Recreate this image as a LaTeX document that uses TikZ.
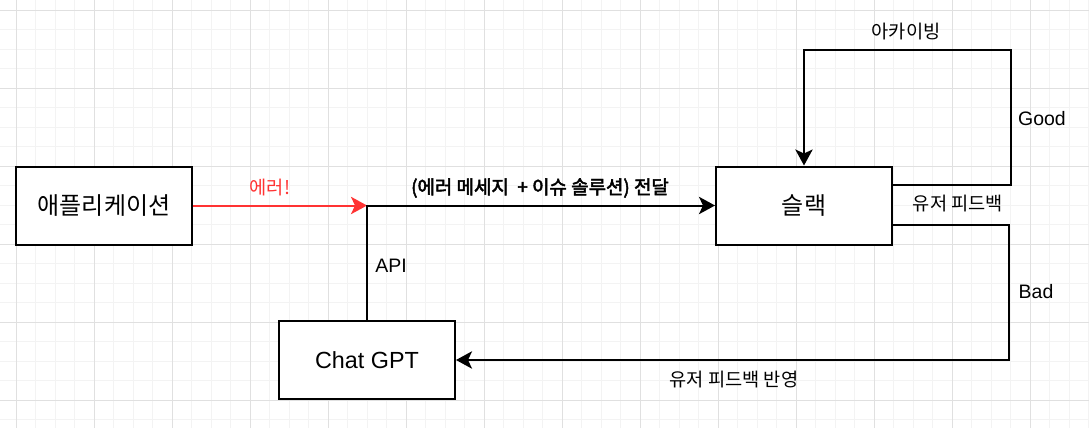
\documentclass[tikz,border=0pt]{standalone}
\usepackage{fontspec}
\setmainfont{Liberation Sans}
\newfontfamily\kr{Noto Sans CJK KR}
\newfontfamily\krb[FakeBold=2.5]{Noto Sans CJK KR}
\usetikzlibrary{arrows.meta}
\definecolor{gridminor}{HTML}{F3F3F3}
\definecolor{gridmajor}{HTML}{E0E0E0}
\definecolor{errred}{HTML}{FF3333}
\tikzset{
  box/.style={draw=black, line width=1.5pt, fill=white, minimum width=132pt, minimum height=58.5pt, inner sep=0pt},
  conn/.style={line width=1.5pt, draw=black, line join=miter},
  arr/.style={-{Stealth[length=12pt,width=13pt,inset=3pt]}},
  krbig/.style={font=\kr\fontsize{18pt}{20pt}\selectfont},
  latbig/.style={font=\fontsize{17.5pt}{20pt}\selectfont},
  krlbl/.style={inner sep=0pt, font=\kr\fontsize{14pt}{16pt}\selectfont},
  latlbl/.style={inner sep=0pt, font=\fontsize{14.6pt}{16pt}\selectfont},
}
\begin{document}
\begin{tikzpicture}[x=0.75pt,y=-0.75pt]
\useasboundingbox (0,0) rectangle (1089,428);
\fill[white] (0,0) rectangle (1089,428);
% grid
\foreach \k in {0,...,55} {\draw[gridminor, line width=0.75pt] ({16.3+19.5*\k},0) -- ({16.3+19.5*\k},428);}
\foreach \k in {0,...,21} {\draw[gridminor, line width=0.75pt] (0,{10.3+19.5*\k}) -- (1089,{10.3+19.5*\k});}
\foreach \k in {0,...,13} {\draw[gridmajor, line width=0.75pt] ({16.3+78*\k},0) -- ({16.3+78*\k},428);}
\foreach \k in {0,...,5} {\draw[gridmajor, line width=0.75pt] (0,{10.3+78*\k}) -- (1089,{10.3+78*\k});}
% nodes
\node[box, krbig] (app) at (104,205.5) {애플리케이션};
\node[box, latbig] (gpt) at (367,360) {Chat GPT};
\node[box, krbig] (slack) at (804,205.5) {슬랙};
\coordinate (j) at (gpt.north |- app.east);
\coordinate (g1) at (1011,185.3);
\coordinate (g2) at (1011,50);
\coordinate (b1) at (1009,225.3);
% connectors
\draw[conn, draw=errred, arr] (app.east) -- (j);
\draw[conn, arr] (gpt.north) |- (slack.west);
\draw[conn, arr] (slack.east |- g1) -- (g1) -- (g2) -| (slack.north);
\draw[conn, arr] (slack.east |- b1) -- (b1) |- (gpt.east);
% labels
\node[krlbl, text=errred] (lerr) at (270,188) {에러!};
\node[inner sep=0pt, font=\krb\fontsize{14.2pt}{16pt}\selectfont] (lmsg) at (540,188) {(에러 메세지 \ + 이슈 솔루션) 전달};
\node[latlbl] (lapi) at (391,266) {API};
\node[krlbl] (larc) at (906,32) {아카이빙};
\node[latlbl] (lgood) at (1042,119) {Good};
\node[krlbl] (lfb) at (958,204) {유저 피드백};
\node[latlbl] (lbad) at (1036,292) {Bad};
\node[krlbl] (lfbr) at (734,380) {유저 피드백 반영};
\end{tikzpicture}
\end{document}
